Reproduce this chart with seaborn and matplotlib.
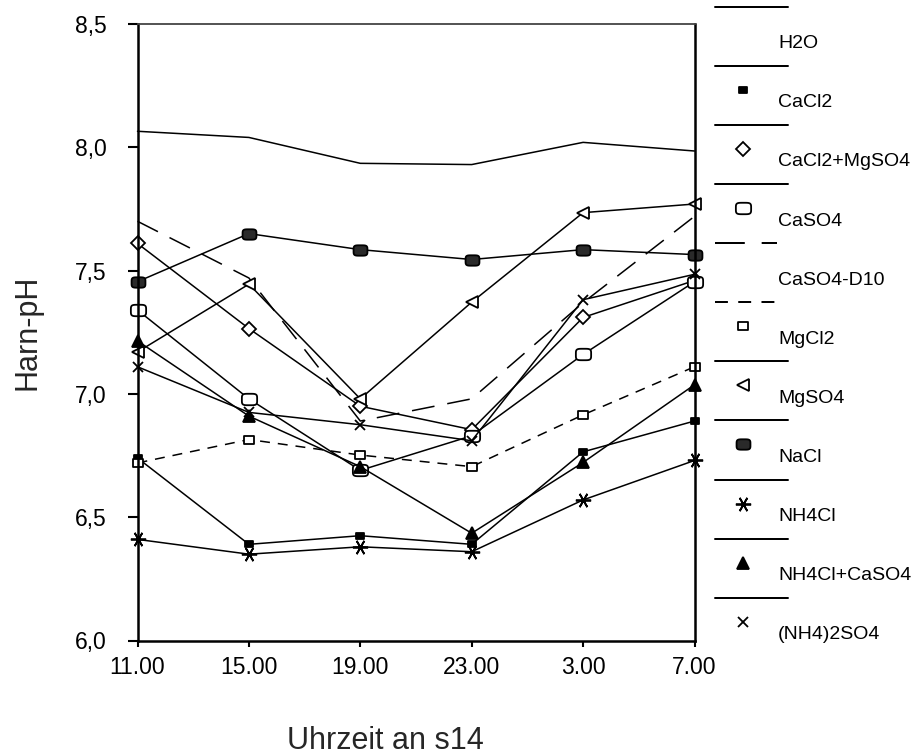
import numpy as np
import pandas as pd
import matplotlib
matplotlib.use("Agg")
import matplotlib.pyplot as plt
from matplotlib.path import Path
from matplotlib.lines import Line2D
from matplotlib.ticker import FuncFormatter
import seaborn as sns

# ---- data ----
times = ["11.00", "15.00", "19.00", "23.00", "3.00", "7.00"]
series_names = ["H2O", "CaCl2", "CaCl2+MgSO4", "CaSO4", "CaSO4-D10", "MgCl2",
                "MgSO4", "NaCl", "NH4Cl", "NH4Cl+CaSO4", "(NH4)2SO4"]
h2o = [8.065, 8.04, 7.935, 7.93, 8.02, 7.985]
cacl2 = [6.74, 6.39, 6.425, 6.39, 6.765, 6.89]
cacl2_mgso4 = [7.61, 7.265, 6.95, 6.855, 7.31, 7.46]
caso4 = [7.34, 6.98, 6.69, 6.83, 7.16, 7.455]
caso4_d10 = [7.70, 7.47, 6.89, 6.98, 7.37, 7.72]
mgcl2 = [6.72, 6.815, 6.752, 6.705, 6.915, 7.11]
mgso4 = [7.17, 7.445, 6.98, 7.372, 7.735, 7.77]
nacl = [7.455, 7.65, 7.585, 7.545, 7.585, 7.565]
nh4cl = [6.41, 6.35, 6.38, 6.36, 6.57, 6.73]
nh4cl_caso4 = [7.215, 6.91, 6.705, 6.435, 6.722, 7.037]
nh4_2so4 = [7.11, 6.925, 6.875, 6.81, 7.382, 7.485]
yticks = [6.0, 6.5, 7.0, 7.5, 8.0, 8.5]

values = [h2o, cacl2, cacl2_mgso4, caso4, caso4_d10, mgcl2,
          mgso4, nacl, nh4cl, nh4cl_caso4, nh4_2so4]
rows = []
for name, vals in zip(series_names, values):
    for i, (t, v) in enumerate(zip(times, vals)):
        rows.append({"series": name, "pos": i, "time": t, "pH": v})
df = pd.DataFrame(rows)

# ---- marker shapes ----
def rounded_rect(aspect):
    t = np.linspace(0, 2 * np.pi, 60)
    c, s = np.cos(t), np.sin(t)
    x = np.sign(c) * np.abs(c) ** 0.45
    y = aspect * np.sign(s) * np.abs(s) ** 0.45
    verts = np.column_stack([x, y])
    codes = [Path.MOVETO] + [Path.LINETO] * (len(verts) - 2) + [Path.CLOSEPOLY]
    return Path(verts, codes)

def rect(aspect):
    verts = [(-1, -aspect), (1, -aspect), (1, aspect), (-1, aspect), (-1, -aspect)]
    codes = [Path.MOVETO, Path.LINETO, Path.LINETO, Path.LINETO, Path.CLOSEPOLY]
    return Path(verts, codes)

W = "white"
K = "black"
styles = {
    "H2O":          dict(marker=None, ls="-"),
    "CaCl2":        dict(marker=rect(0.78), ms=6.2, mfc=K, ls="-"),
    "CaCl2+MgSO4":  dict(marker="D", ms=7.0, mfc=W, ls="-"),
    "CaSO4":        dict(marker=rounded_rect(0.75), ms=11, mfc=W, ls="-"),
    "CaSO4-D10":    dict(marker=None, ls=(0, (15, 8.5))),
    "MgCl2":        dict(marker=rect(0.78), ms=7.5, mfc=W, ls=(0, (6.5, 5.2))),
    "MgSO4":        dict(marker="<", ms=9, mfc=W, ls="-"),
    "NaCl":         dict(marker=rounded_rect(0.75), ms=10, mfc="#2a2a2a", ls="-"),
    "NH4Cl":        dict(marker=(6, 2, 30), ms=11, mfc=K, ls="-"),
    "NH4Cl+CaSO4":  dict(marker="^", ms=8, mfc=K, ls="-"),
    "(NH4)2SO4":    dict(marker="x", ms=7.5, mfc=K, ls="-"),
}

sns.set_theme(style="ticks")
plt.rcParams["font.family"] = ["Liberation Sans", "DejaVu Sans"]

fig = plt.figure(figsize=(9.15, 7.56), dpi=100)
L, R, T, B = 137.5, 694.5, 24, 640.5
ax = fig.add_axes([L / 915, 1 - B / 756, (R - L) / 915, (B - T) / 756])

LW = 1.1
for name in series_names:
    st = styles[name]
    sub = df[df["series"] == name]
    kw = dict(color=K, linewidth=LW, linestyle=st["ls"])
    if st["marker"] is not None:
        kw.update(marker=st["marker"], markersize=st["ms"],
                  markerfacecolor=st["mfc"], markeredgecolor=K,
                  markeredgewidth=1.3)
    sns.lineplot(data=sub, x="pos", y="pH", ax=ax, errorbar=None,
                 sort=False, legend=False, **kw)
    ax.lines[-1].set_clip_on(False)

ax.set_xlim(0, len(times) - 1)
ax.set_ylim(yticks[0], yticks[-1])
ax.set_xticks(range(len(times)))
ax.set_xticklabels(times)
ax.set_yticks(yticks)
ax.yaxis.set_major_formatter(FuncFormatter(lambda v, p: f"{v:.1f}".replace(".", ",")))
ax.tick_params(axis="y", length=7, width=1.5, pad=15, labelsize=16.5, colors=K)
ax.tick_params(axis="x", length=4, width=1.5, pad=7, labelsize=16.5, colors=K)
for side in ["left", "right", "bottom"]:
    ax.spines[side].set_linewidth(1.8)
    ax.spines[side].set_color(K)
ax.spines["top"].set_linewidth(1.3)
ax.spines["top"].set_color("#444444")
ax.set_facecolor("white")

ax.set_xlabel("Uhrzeit an s14", fontsize=22)
ax.set_ylabel("Harn-pH", fontsize=22)
ax.xaxis.set_label_coords((385 - L) / (R - L), -(726 - B) / (B - T))
ax.yaxis.set_label_coords(-(L - 43) / (R - L), 0.5)

# ---- legend (custom layout: line on top, marker + label below) ----
lax = fig.add_axes([0, 0, 1, 1])
lax.set_xlim(0, 915)
lax.set_ylim(756, 0)
lax.axis("off")
y0, step = 6.7, 59.1
for i, name in enumerate(series_names):
    st = styles[name]
    yl = y0 + i * step
    x_end = 788
    if name == "CaSO4-D10":
        x_end = 777
    elif name == "MgCl2":
        x_end = 780
    lax.add_line(Line2D([715, x_end], [yl, yl], color=K, linewidth=LW * 1.3,
                        linestyle=st["ls"]))
    if st["marker"] is not None:
        lax.add_line(Line2D([743.3], [yl + 24], marker=st["marker"],
                            markersize=st["ms"], markerfacecolor=st["mfc"],
                            markeredgecolor=K, markeredgewidth=1.3,
                            linestyle="none"))
    lax.text(778, yl + 41.5, name, fontsize=14, va="baseline", ha="left", color=K)

fig.savefig("out.png", dpi=100, facecolor="white")
